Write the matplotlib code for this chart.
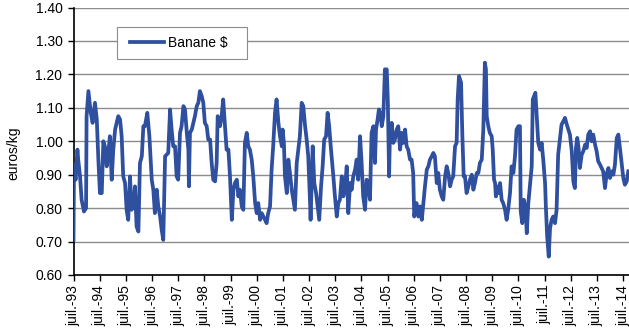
import matplotlib
matplotlib.use("Agg")
import matplotlib.pyplot as plt
from matplotlib.patches import Rectangle

plt.rcParams['font.family'] = ['Liberation Sans', 'DejaVu Sans']

series_label = "Banane $"
y_label = "euros/kg"

years = [
    1993.50, 1993.52, 1993.58, 1993.65, 1993.68, 1993.75, 1993.81, 1993.90, 1993.98, 1994.00,
    1994.07, 1994.16, 1994.23, 1994.32, 1994.39, 1994.45, 1994.51, 1994.58, 1994.64, 1994.70,
    1994.77, 1994.83, 1994.89, 1994.96, 1995.02, 1995.09, 1995.15, 1995.21, 1995.28, 1995.34,
    1995.40, 1995.47, 1995.53, 1995.59, 1995.66, 1995.72, 1995.79, 1995.85, 1995.91, 1995.98,
    1996.04, 1996.11, 1996.17, 1996.23, 1996.32, 1996.40, 1996.49, 1996.55, 1996.61, 1996.68,
    1996.74, 1996.81, 1996.87, 1996.93, 1997.00, 1997.12, 1997.19, 1997.25, 1997.31, 1997.38,
    1997.44, 1997.50, 1997.57, 1997.63, 1997.70, 1997.76, 1997.83, 1997.89, 1997.91, 1997.95,
    1998.02, 1998.08, 1998.14, 1998.21, 1998.27, 1998.33, 1998.40, 1998.46, 1998.52, 1998.59,
    1998.65, 1998.72, 1998.78, 1998.84, 1998.91, 1998.97, 1999.01, 1999.10, 1999.16, 1999.22,
    1999.29, 1999.35, 1999.42, 1999.48, 1999.55, 1999.61, 1999.67, 1999.74, 1999.80, 1999.86,
    1999.93, 1999.99, 2000.05, 2000.12, 2000.18, 2000.24, 2000.31, 2000.37, 2000.44, 2000.50,
    2000.56, 2000.63, 2000.69, 2000.82, 2000.88, 2000.94, 2001.01, 2001.07, 2001.13, 2001.20,
    2001.26, 2001.33, 2001.39, 2001.46, 2001.49, 2001.54, 2001.58, 2001.65, 2001.71, 2001.77,
    2001.84, 2001.90, 2001.96, 2002.03, 2002.09, 2002.15, 2002.22, 2002.28, 2002.35, 2002.41,
    2002.47, 2002.54, 2002.56, 2002.64, 2002.70, 2002.77, 2002.83, 2002.89, 2002.96, 2003.02,
    2003.08, 2003.15, 2003.21, 2003.27, 2003.34, 2003.43, 2003.49, 2003.56, 2003.62, 2003.68,
    2003.75, 2003.81, 2003.87, 2003.94, 2004.00, 2004.07, 2004.13, 2004.19, 2004.26, 2004.32,
    2004.38, 2004.45, 2004.51, 2004.57, 2004.64, 2004.70, 2004.76, 2004.83, 2004.89, 2004.96,
    2005.02, 2005.06, 2005.12, 2005.17, 2005.22, 2005.28, 2005.34, 2005.40, 2005.47, 2005.51,
    2005.56, 2005.59, 2005.66, 2005.72, 2005.78, 2005.85, 2005.91, 2005.98, 2006.04, 2006.10,
    2006.17, 2006.23, 2006.29, 2006.36, 2006.42, 2006.48, 2006.52, 2006.61, 2006.68, 2006.74,
    2006.81, 2006.87, 2006.93, 2007.00, 2007.06, 2007.12, 2007.19, 2007.25, 2007.31, 2007.38,
    2007.44, 2007.50, 2007.57, 2007.63, 2007.70, 2007.76, 2007.82, 2007.89, 2007.95, 2008.01,
    2008.08, 2008.14, 2008.18, 2008.23, 2008.31, 2008.36, 2008.41, 2008.46, 2008.52, 2008.59,
    2008.65, 2008.72, 2008.78, 2008.84, 2008.91, 2008.97, 2009.03, 2009.10, 2009.16, 2009.22,
    2009.26, 2009.29, 2009.35, 2009.41, 2009.48, 2009.52, 2009.57, 2009.61, 2009.64, 2009.69,
    2009.75, 2009.80, 2009.86, 2009.92, 2009.99, 2010.05, 2010.11, 2010.18, 2010.24, 2010.31,
    2010.37, 2010.43, 2010.50, 2010.56, 2010.59, 2010.65, 2010.71, 2010.78, 2010.82, 2010.88,
    2010.94, 2011.01, 2011.05, 2011.10, 2011.15, 2011.20, 2011.26, 2011.33, 2011.39, 2011.45,
    2011.52, 2011.55, 2011.60, 2011.66, 2011.71, 2011.77, 2011.83, 2011.90, 2011.96, 2012.02,
    2012.09, 2012.15, 2012.22, 2012.28, 2012.35, 2012.41, 2012.47, 2012.54, 2012.60, 2012.64,
    2012.66, 2012.70, 2012.75, 2012.80, 2012.85, 2012.92, 2012.98, 2013.05, 2013.11, 2013.17,
    2013.24, 2013.30, 2013.36, 2013.43, 2013.49, 2013.55, 2013.62, 2013.68, 2013.74, 2013.81,
    2013.87, 2013.94, 2014.00, 2014.07, 2014.13, 2014.19, 2014.26, 2014.32, 2014.38, 2014.45,
    2014.51, 2014.57, 2014.64, 2014.70,
]

prices = [
    0.705, 0.930, 0.885, 0.975, 0.945, 0.895, 0.825, 0.790, 0.800, 1.075,
    1.150, 1.085, 1.055, 1.115, 1.065, 0.945, 0.845, 0.845, 1.000, 0.985,
    0.925, 0.965, 1.015, 0.885, 0.975, 1.035, 1.055, 1.075, 1.065, 1.015,
    0.895, 0.875, 0.795, 0.765, 0.895, 0.795, 0.805, 0.865, 0.745, 0.730,
    0.935, 0.955, 1.045, 1.045, 1.085, 1.015, 0.885, 0.855, 0.785, 0.855,
    0.805, 0.775, 0.735, 0.705, 0.955, 0.965, 1.095, 1.035, 0.985, 0.985,
    0.895, 0.885, 1.025, 1.045, 1.105, 1.095, 1.025, 0.975, 0.865, 1.025,
    1.035, 1.055, 1.075, 1.105, 1.115, 1.150, 1.135, 1.115, 1.055, 1.045,
    1.005, 1.005, 0.935, 0.885, 0.880, 0.935, 1.075, 1.045, 1.075, 1.125,
    1.045, 0.975, 0.975, 0.895, 0.765, 0.855, 0.875, 0.885, 0.835, 0.855,
    0.805, 0.795, 0.995, 1.025, 0.985, 0.975, 0.945, 0.895, 0.815, 0.785,
    0.815, 0.765, 0.785, 0.765, 0.755, 0.785, 0.805, 0.915, 0.985, 1.085,
    1.125, 1.055, 1.015, 0.985, 1.035, 0.995, 0.895, 0.845, 0.945, 0.905,
    0.855, 0.825, 0.795, 0.935, 0.975, 1.015, 1.115, 1.105, 1.045, 1.005,
    0.955, 0.815, 0.765, 0.985, 0.875, 0.845, 0.805, 0.765, 0.865, 0.925,
    1.005, 1.015, 1.085, 1.045, 0.975, 0.895, 0.835, 0.775, 0.815, 0.825,
    0.895, 0.835, 0.855, 0.925, 0.785, 0.875, 0.855, 0.895, 0.915, 0.945,
    0.885, 1.015, 0.935, 0.835, 0.795, 0.885, 0.875, 0.825, 1.025, 1.045,
    0.935, 1.035, 1.065, 1.095, 1.085, 1.045, 1.075, 1.215, 1.215, 1.125,
    0.895, 1.015, 1.055, 0.995, 1.005, 1.035, 1.045, 0.975, 1.025, 0.995,
    1.035, 0.985, 0.975, 0.945, 0.945, 0.905, 0.775, 0.815, 0.775, 0.805,
    0.765, 0.815, 0.865, 0.915, 0.925, 0.945, 0.955, 0.965, 0.955, 0.875,
    0.905, 0.855, 0.835, 0.825, 0.895, 0.925, 0.905, 0.865, 0.885, 0.895,
    0.985, 0.995, 1.125, 1.195, 1.175, 1.015, 0.895, 0.895, 0.845, 0.865,
    0.885, 0.900, 0.855, 0.875, 0.905, 0.905, 0.935, 0.945, 1.035, 1.235,
    1.215, 1.075, 1.045, 1.025, 1.015, 0.975, 0.885, 0.875, 0.835, 0.865,
    0.845, 0.875, 0.825, 0.815, 0.795, 0.765, 0.795, 0.845, 0.925, 0.905,
    0.955, 1.035, 1.045, 1.045, 0.790, 0.755, 0.825, 0.795, 0.725, 0.815,
    0.865, 0.925, 1.125, 1.135, 1.145, 1.075, 0.995, 0.975, 0.995, 0.945,
    0.875, 0.805, 0.715, 0.655, 0.740, 0.765, 0.775, 0.755, 0.795, 0.960,
    1.010, 1.050, 1.060, 1.070, 1.050, 1.035, 1.020, 0.970, 0.880, 0.865,
    0.860, 0.980, 1.010, 0.980, 0.920, 0.960, 0.970, 0.990, 0.980, 1.020,
    1.030, 1.000, 1.020, 0.990, 0.970, 0.940, 0.930, 0.920, 0.910, 0.860,
    0.900, 0.920, 0.890, 0.910, 0.900, 0.930, 1.010, 1.020, 0.980, 0.930,
    0.890, 0.870, 0.880, 0.910,
]

tick_years = list(range(1993, 2015))
tick_labels = ["juil.-%02d" % (y % 100) for y in tick_years]
tick_positions = [y + 0.5 for y in tick_years]
y_ticks = [0.60, 0.70, 0.80, 0.90, 1.00, 1.10, 1.20, 1.30, 1.40]

W, H = 629, 331
fig = plt.figure(figsize=(W / 100, H / 100), dpi=100)
left_px, right_px, top_px, bottom_px = 73.5, 629.6, 7.5, 275.0
ax = fig.add_axes([left_px / W, 1 - bottom_px / H,
                   (right_px - left_px) / W, (bottom_px - top_px) / H])

line_color = "#2F4F9F"
ax.plot(years, prices, color=line_color, lw=2.7, solid_joinstyle="round",
        label=series_label, zorder=3)

ax.set_xlim(1993.5, 2014.75)
ax.set_ylim(0.6, 1.4)
ax.set_yticks(y_ticks)
ax.set_yticklabels(["%.2f" % v for v in y_ticks])
ax.set_xticks(tick_positions)
ax.set_xticklabels(tick_labels, rotation=90, va="top", ha="center")

ax.grid(axis="y", color="#8C8C8C", lw=1.0, zorder=0)
ax.set_axisbelow(True)
for s in ["top", "right"]:
    ax.spines[s].set_visible(False)
for s in ["left", "bottom"]:
    ax.spines[s].set_color("black")
    ax.spines[s].set_linewidth(1.2)

ax.tick_params(axis="y", direction="out", length=4, width=1, pad=4,
               labelsize=10, colors="black")
ax.tick_params(axis="x", direction="out", length=4, width=1, pad=3,
               labelsize=10, colors="black")

ax.set_ylabel(y_label, fontsize=10)
ax.yaxis.set_label_coords(-0.095, 0.456)

# legend box
ax.add_patch(Rectangle((0.078, 0.807), 0.234, 0.120, transform=ax.transAxes,
                       facecolor="white", edgecolor="#8C8C8C", lw=0.8, zorder=4))
leg = ax.legend(loc="center left", bbox_to_anchor=(0.101, 0.867), frameon=False,
                fontsize=10, handlelength=2.5, handletextpad=0.25,
                borderpad=0, borderaxespad=0)
leg.set_zorder(5)

fig.savefig("out.png", dpi=100)
